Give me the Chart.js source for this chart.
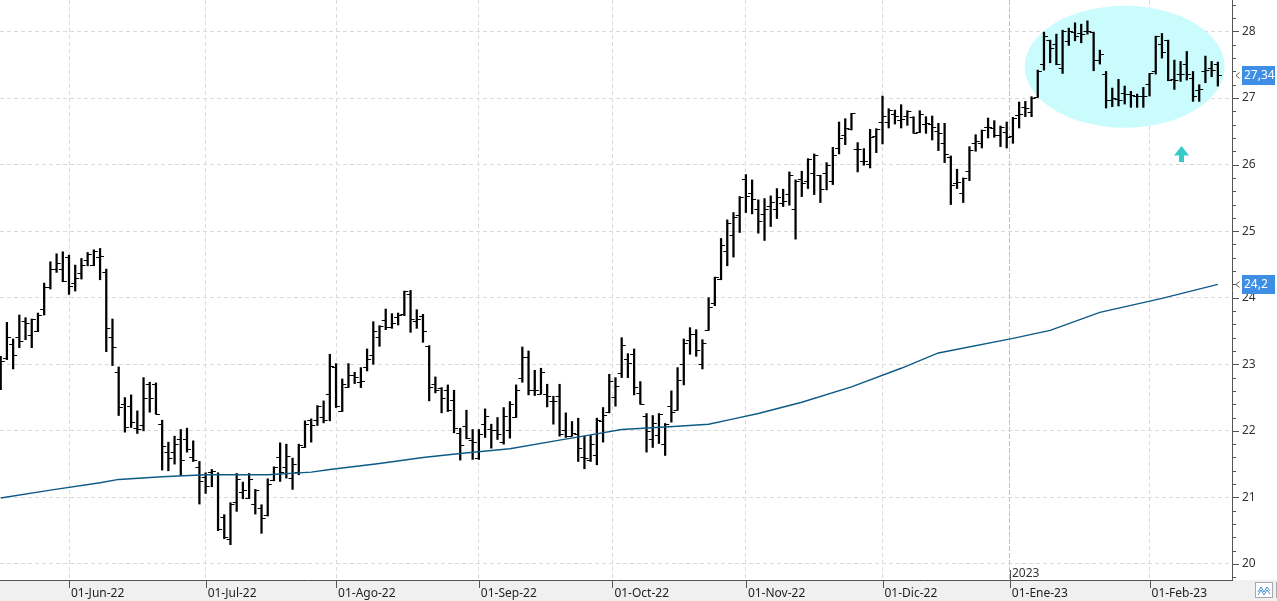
<!DOCTYPE html>
<html>
<head>
<meta charset="utf-8">
<script src="https://cdn.jsdelivr.net/npm/chart.js@4.4.0/dist/chart.umd.min.js"></script>
<style>
  html, body { margin: 0; padding: 0; background: #fff; overflow: hidden; }
</style>
</head>
<body>
<canvas id="chart" width="1277" height="601"></canvas>
<script>
// daily OHLC, one value per trading day from 17-May-22
const opens = [
  22.7, 23.08, 23.3, 23.4, 23.64, 23.43, 23.49, 23.82, 24.15, 24.43,
  24.43, 24.6, 24.22, 24.37, 24.56, 24.49, 24.61, 24.38, 23.4, 22.88,
  22.4, 22.37, 22.04, 22.08, 22.7, 22.7, 22.1, 21.67, 21.67, 21.87,
  21.87, 21.6, 21.45, 21.3, 21.37, 21.35, 20.7, 20.36, 20.92, 21.08,
  20.98, 20.9, 20.84, 20.73, 21.25, 21.6, 21.45, 21.28, 21.38, 21.75,
  22.15, 22.15, 22.2, 22.55, 22.95, 22.29, 22.65, 22.83, 22.72, 22.95,
  23.13, 23.4, 23.66, 23.55, 23.7, 23.75, 24.05, 23.64, 23.72, 23.27,
  22.69, 22.63, 22.61, 22.45, 21.96, 22.06, 21.85, 21.59, 22.1, 22.02,
  22.0, 21.82, 22.0, 22.2, 22.79, 23.1, 22.61, 22.55, 22.54, 22.44,
  22.51, 22.0, 21.92, 21.95, 21.6, 21.55, 21.63, 22.14, 22.27, 22.5,
  22.86, 23.07, 23.15, 22.56, 22.21, 21.87, 21.93, 21.79, 22.36, 22.31,
  22.99, 23.36, 23.45, 23.0, 23.51, 23.92, 24.28, 24.7, 24.93, 25.23,
  25.77, 25.56, 25.32, 25.25, 25.37, 25.33, 25.42, 25.55, 25.32, 25.77,
  25.75, 25.86, 25.84, 25.86, 25.74, 26.24, 26.44, 26.52, 26.22, 26.05,
  26.0, 26.42, 26.64, 26.64, 26.75, 26.67, 26.72, 26.71, 26.48, 26.61,
  26.61, 26.5, 26.32, 26.1, 25.72, 25.56, 25.89, 26.32, 26.32, 26.56,
  26.54, 26.43, 26.48, 26.42, 26.74, 26.86, 26.79, 27.01, 27.51, 27.87,
  27.81, 27.45, 27.85, 27.99, 27.97, 28.0, 27.98, 27.57, 27.35, 26.97,
  26.98, 27.07, 27.06, 27.03, 27.03, 27.21, 27.4, 27.8, 27.87, 27.28,
  27.35, 27.51, 27.3, 27.12, 27.4, 27.45, 27.5
];
const highs = [
  23.12, 23.63, 23.38, 23.74, 23.7, 23.68, 23.77, 24.22, 24.54, 24.66,
  24.69, 24.64, 24.49, 24.59, 24.68, 24.72, 24.74, 24.43, 23.68, 22.96,
  22.5, 22.54, 22.3, 22.8, 22.73, 22.72, 22.16, 21.83, 21.92, 22.02,
  22.04, 21.85, 21.54, 21.37, 21.42, 21.37, 20.74, 20.92, 21.36, 21.23,
  21.36, 21.12, 20.89, 21.28, 21.46, 21.82, 21.8, 21.59, 21.8, 22.15,
  22.18, 22.38, 22.45, 23.15, 23.01, 22.78, 23.01, 22.88, 22.95, 23.23,
  23.64, 23.58, 23.83, 23.76, 23.77, 24.1, 24.11, 23.82, 23.75, 23.28,
  22.81, 22.65, 22.69, 22.61, 22.04, 22.31, 22.02, 22.02, 22.33, 22.1,
  22.2, 22.35, 22.44, 22.69, 23.26, 23.2, 22.91, 22.94, 22.7, 22.52,
  22.7, 22.27, 22.14, 22.19, 21.92, 21.93, 22.19, 22.35, 22.85, 22.8,
  23.4, 23.16, 23.23, 22.74, 22.26, 22.23, 22.26, 22.11, 22.6, 22.95,
  23.38, 23.55, 23.52, 23.37, 24.0, 24.31, 24.89, 25.17, 25.28, 25.52,
  25.85, 25.77, 25.47, 25.49, 25.53, 25.64, 25.63, 25.89, 25.77, 25.9,
  26.09, 26.16, 25.84, 26.03, 26.26, 26.64, 26.69, 26.77, 26.33, 26.24,
  26.53, 26.54, 27.03, 26.84, 26.82, 26.9, 26.81, 26.72, 26.81, 26.72,
  26.73, 26.62, 26.62, 26.13, 25.93, 25.8, 26.27, 26.45, 26.52, 26.7,
  26.66, 26.58, 26.64, 26.71, 26.94, 26.95, 27.02, 27.42, 27.99, 27.87,
  27.96, 28.02, 28.05, 28.13, 28.11, 28.16, 27.99, 27.72, 27.4, 27.15,
  27.28, 27.18, 27.1, 27.06, 27.16, 27.37, 27.93, 27.97, 27.87, 27.57,
  27.55, 27.7, 27.4, 27.2, 27.63, 27.55, 27.54
];
const lows = [
  22.62, 23.07, 22.93, 23.25, 23.37, 23.25, 23.49, 23.74, 24.13, 24.38,
  24.24, 24.05, 24.1, 24.28, 24.48, 24.48, 24.27, 23.19, 22.98, 22.23,
  21.98, 22.05, 21.96, 22.0, 22.28, 22.25, 21.41, 21.4, 21.5, 21.33,
  21.68, 21.54, 20.9, 21.06, 21.16, 20.5, 20.38, 20.29, 20.79, 20.98,
  20.98, 20.75, 20.46, 20.72, 21.25, 21.24, 21.29, 21.12, 21.34, 21.75,
  21.83, 22.08, 22.12, 22.15, 22.35, 22.29, 22.65, 22.71, 22.65, 22.9,
  23.0, 23.27, 23.52, 23.54, 23.59, 23.73, 23.48, 23.54, 23.33, 22.45,
  22.57, 22.27, 22.29, 21.97, 21.56, 21.88, 21.57, 21.57, 21.9, 21.74,
  21.87, 21.8, 21.89, 22.2, 22.73, 22.54, 22.53, 22.55, 22.36, 22.1,
  21.92, 21.9, 21.92, 21.54, 21.43, 21.54, 21.49, 21.83, 22.27, 22.37,
  22.8, 22.8, 22.54, 22.4, 21.68, 21.75, 21.81, 21.63, 22.13, 22.31,
  22.69, 23.15, 23.12, 22.93, 23.51, 23.88, 24.27, 24.48, 24.61, 24.98,
  25.28, 25.26, 24.97, 24.86, 25.07, 25.19, 25.37, 25.39, 24.88, 25.52,
  25.64, 25.55, 25.43, 25.62, 25.7, 26.16, 26.3, 26.52, 25.89, 25.99,
  25.95, 26.18, 26.31, 26.55, 26.61, 26.55, 26.59, 26.47, 26.48, 26.47,
  26.37, 26.21, 26.03, 25.4, 25.64, 25.43, 25.76, 26.2, 26.25, 26.4,
  26.41, 26.27, 26.25, 26.32, 26.55, 26.72, 26.72, 27.01, 27.42, 27.53,
  27.5, 27.37, 27.79, 27.86, 27.83, 27.96, 27.41, 27.51, 26.85, 26.87,
  26.88, 26.91, 26.86, 26.86, 26.86, 27.03, 27.36, 27.6, 27.26, 27.13,
  27.25, 27.27, 26.95, 26.95, 27.23, 27.32, 27.18
];
const closes = [
  23.04, 23.4, 23.13, 23.34, 23.61, 23.67, 23.74, 24.15, 24.43, 24.51,
  24.24, 24.17, 24.29, 24.49, 24.65, 24.7, 24.62, 23.54, 23.25, 22.35,
  22.05, 22.13, 22.02, 22.49, 22.49, 22.25, 21.77, 21.58, 21.8, 21.55,
  21.72, 21.55, 21.24, 21.16, 21.39, 20.52, 20.4, 20.9, 21.27, 21.1,
  21.27, 21.1, 20.68, 21.2, 21.45, 21.37, 21.62, 21.5, 21.78, 22.1,
  22.08, 22.36, 22.15, 22.96, 22.36, 22.7, 22.83, 22.8, 22.74, 23.07,
  23.5, 23.57, 23.55, 23.62, 23.74, 24.09, 23.67, 23.67, 23.5, 22.65,
  22.6, 22.49, 22.3, 22.04, 21.78, 21.89, 21.83, 21.95, 22.21, 22.0,
  21.94, 22.22, 22.39, 22.6, 23.1, 22.6, 22.6, 22.88, 22.52, 22.44,
  21.94, 21.92, 21.96, 21.74, 21.59, 21.79, 22.15, 22.23, 22.74, 22.66,
  23.28, 23.01, 22.65, 22.4, 21.99, 22.11, 22.24, 22.1, 22.28, 22.75,
  23.31, 23.44, 23.2, 23.31, 23.85, 24.3, 24.79, 25.12, 25.2, 25.51,
  25.52, 25.47, 25.14, 25.32, 25.43, 25.5, 25.44, 25.83, 25.75, 25.71,
  26.07, 26.13, 25.63, 25.98, 26.13, 26.39, 26.54, 26.77, 26.23, 26.04,
  26.41, 26.52, 26.72, 26.82, 26.73, 26.68, 26.8, 26.47, 26.76, 26.62,
  26.55, 26.46, 26.15, 25.68, 25.73, 25.79, 26.21, 26.34, 26.51, 26.55,
  26.44, 26.56, 26.41, 26.7, 26.75, 26.85, 27.0, 27.4, 27.92, 27.75,
  27.5, 28.0, 28.0, 27.92, 27.95, 28.0, 27.57, 27.66, 26.97, 26.99,
  26.97, 27.06, 27.04, 27.03, 27.03, 27.37, 27.92, 27.68, 27.26, 27.26,
  27.36, 27.36, 27.03, 27.13, 27.41, 27.42, 27.34
];

// moving average at these bar indexes
const maIndex = [0, 8, 16, 19, 26, 33, 43, 50, 53, 61, 68, 74, 82, 90, 95, 100,
  109, 114, 118, 122, 129, 137, 145, 151, 163, 169, 177, 187, 196];
const maValues = [20.99, 21.11, 21.22, 21.27, 21.31, 21.34, 21.34, 21.38, 21.42, 21.51,
  21.6, 21.66, 21.73, 21.86, 21.94, 22.02, 22.07, 22.1, 22.18, 22.26, 22.43, 22.66,
  22.94, 23.17, 23.39, 23.51, 23.78, 23.99, 24.2];

const firstDay = '2022-05-17';
const closedDays = ['2022-12-26'];
const monthNames = ['Ene', 'Feb', 'Mar', 'Abr', 'May', 'Jun', 'Jul', 'Ago', 'Sep', 'Oct', 'Nov', 'Dic'];

// highlighted zone and marker, in data units (bar index / price)
const zone = { x: 181, y: 27.47, rx: 16.1, ry: 0.915 };
const arrowAt = { x: 190, y: 26.28 };

function tradingDays(start, count, closed) {
    const out = [];
    const d = new Date(start + 'T00:00:00Z');
    while (out.length < count) {
        const wd = d.getUTCDay();
        const iso = d.toISOString().slice(0, 10);
        if (wd !== 0 && wd !== 6 && !closed.includes(iso)) out.push(new Date(d));
        d.setUTCDate(d.getUTCDate() + 1);
    }
    return out;
}

const dates = tradingDays(firstDay, closes.length, closedDays);

const monthTicks = [];
dates.forEach((d, i) => {
    if (i === 0 || d.getUTCMonth() === dates[i - 1].getUTCMonth()) return;
    monthTicks.push({
        value: d.getUTCDate() === 1 ? i : i - 0.5,
        label: '01-' + monthNames[d.getUTCMonth()] + '-' + String(d.getUTCFullYear()).slice(2),
        newYear: d.getUTCMonth() === 0,
        year: d.getUTCFullYear()
    });
});

function isWhole(v) {
    return Math.abs(v - Math.round(v)) < 1e-6;
}

function fmt(v) {
    return String(Math.round(v * 100) / 100).replace('.', ',');
}

function tickImage(side) {
    const c = document.createElement('canvas');
    c.width = 10;
    c.height = 1;
    const g = c.getContext('2d');
    g.fillStyle = '#000';
    if (side === 'left') g.fillRect(1, 0, 4, 1);
    else g.fillRect(5, 0, 4, 1);
    return c;
}

const FONT = '"Noto Sans", sans-serif';
Chart.defaults.font.family = FONT;
Chart.defaults.font.size = 12;

const backdrop = {
    id: 'backdrop',
    beforeDraw(chart) {
        const { ctx, chartArea, width, height } = chart;
        ctx.save();
        ctx.fillStyle = '#fff';
        ctx.fillRect(0, 0, width, height);
        ctx.fillStyle = '#f0f0f0';
        ctx.fillRect(0, chartArea.bottom, width, height - chartArea.bottom);
        ctx.restore();
    }
};

const zonePlugin = {
    id: 'zone',
    beforeDatasetsDraw(chart) {
        const { ctx, scales: { x, y } } = chart;
        const cx = x.getPixelForValue(zone.x);
        const cy = y.getPixelForValue(zone.y);
        const rx = Math.abs(x.getPixelForValue(zone.x + zone.rx) - cx);
        const ry = Math.abs(y.getPixelForValue(zone.y + zone.ry) - cy);
        ctx.save();
        ctx.fillStyle = '#cbfcfd';
        ctx.beginPath();
        ctx.ellipse(cx, cy, rx, ry, 0, 0, Math.PI * 2);
        ctx.fill();

        const tx = Math.round(x.getPixelForValue(arrowAt.x)) + 0.5;
        const ty = Math.round(y.getPixelForValue(arrowAt.y));
        ctx.fillStyle = '#35cbc8';
        ctx.beginPath();
        ctx.moveTo(tx, ty);
        ctx.lineTo(tx + 7.5, ty + 9.5);
        ctx.lineTo(tx - 7.5, ty + 9.5);
        ctx.closePath();
        ctx.fill();
        ctx.fillRect(tx - 2.5, ty + 9, 5, 7);
        ctx.restore();
    }
};

const axisExtras = {
    id: 'axisExtras',
    afterDraw(chart) {
        const { ctx, chartArea, scales: { x, y } } = chart;
        ctx.save();
        ctx.strokeStyle = '#555';
        ctx.lineWidth = 1;
        ctx.beginPath();
        y.ticks.forEach(t => {
            if (t.value < y.min || t.value > y.max) return;
            const py = Math.round(y.getPixelForValue(t.value)) + 0.5;
            ctx.moveTo(y.left, py);
            ctx.lineTo(y.left + (isWhole(t.value) ? 7 : 4), py);
        });
        monthTicks.forEach(m => {
            const px = Math.round(x.getPixelForValue(m.value)) + 0.5;
            ctx.moveTo(px, chartArea.bottom);
            ctx.lineTo(px, chartArea.bottom + 8);
            if (m.newYear) {
                ctx.moveTo(px, chartArea.bottom - 10);
                ctx.lineTo(px, chartArea.bottom);
            }
        });
        ctx.stroke();

        ctx.fillStyle = '#333';
        ctx.font = '12px ' + FONT;
        ctx.textAlign = 'left';
        ctx.textBaseline = 'alphabetic';
        monthTicks.filter(m => m.newYear).forEach(m => {
            const px = Math.round(x.getPixelForValue(m.value));
            ctx.fillText(String(m.year), px + 2, chartArea.bottom - 3.5);
        });

        const tag = (value, text) => {
            const py = y.getPixelForValue(value);
            const top = Math.round(py - 9.5);
            ctx.fillStyle = '#3d8ee4';
            ctx.fillRect(y.left + 10, top, 33, 19);
            ctx.fillStyle = '#fff';
            ctx.textBaseline = 'middle';
            ctx.fillText(text, y.left + 12, top + 10);
            ctx.strokeStyle = '#555';
            ctx.beginPath();
            ctx.moveTo(y.left + 7.5, top + 6.5);
            ctx.lineTo(y.left + 4, top + 9.5);
            ctx.lineTo(y.left + 7.5, top + 12.5);
            ctx.stroke();
        };
        tag(closes[closes.length - 1], fmt(closes[closes.length - 1]));
        tag(maValues[maValues.length - 1], fmt(maValues[maValues.length - 1]));

        // little chart-type buttons in the corner
        ctx.fillStyle = '#fff';
        ctx.strokeStyle = '#a8a8a8';
        ctx.fillRect(1255.5, 582.5, 17, 15);
        ctx.strokeRect(1255.5, 582.5, 17, 15);
        ctx.strokeRect(1276.5, 582.5, 10, 15);
        ctx.strokeStyle = '#4a8fd8';
        ctx.beginPath();
        ctx.moveTo(1258, 592); ctx.lineTo(1261, 587); ctx.lineTo(1264, 592); ctx.lineTo(1267, 587); ctx.lineTo(1270, 591);
        ctx.moveTo(1258, 595); ctx.lineTo(1261, 590); ctx.lineTo(1264, 595); ctx.lineTo(1267, 590); ctx.lineTo(1270, 594);
        ctx.stroke();
        ctx.restore();
    }
};

new Chart(document.getElementById('chart'), {
    type: 'bar',
    data: {
        datasets: [
            {
                type: 'line',
                label: 'Media',
                data: maIndex.map((v, k) => ({ x: v, y: maValues[k] })),
                borderColor: '#0d5a86',
                borderWidth: 1.4,
                pointRadius: 0,
                tension: 0,
                order: 0
            },
            {
                type: 'line',
                label: 'Apertura',
                data: opens.map((v, i) => ({ x: i, y: v })),
                showLine: false,
                pointStyle: tickImage('left'),
                pointRadius: 3,
                order: 1
            },
            {
                type: 'line',
                label: 'Cierre',
                data: closes.map((v, i) => ({ x: i, y: v })),
                showLine: false,
                pointStyle: tickImage('right'),
                pointRadius: 3,
                order: 1
            },
            {
                type: 'bar',
                label: 'Rango',
                data: dates.map((d, i) => ({ x: i, y: [lows[i], highs[i]] })),
                backgroundColor: '#000',
                borderWidth: 0,
                barThickness: 1.6,
                grouped: false,
                order: 2
            }
        ]
    },
    options: {
        responsive: false,
        animation: false,
        events: [],
        layout: { padding: 0, autoPadding: false },
        plugins: { legend: { display: false }, tooltip: { enabled: false } },
        scales: {
            x: {
                type: 'linear',
                min: -0.113,
                max: 198.28,
                offset: false,
                afterBuildTicks: s => { s.ticks = monthTicks.map(m => ({ value: m.value })); },
                afterFit: s => { s.height = 21; s.paddingLeft = 0; s.paddingRight = 0; },
                grid: {
                    offset: false,
                    drawTicks: false,
                    color: ctx => (monthTicks[ctx.index] && monthTicks[ctx.index].newYear) ? '#c2c2c2' : '#dadada'
                },
                border: {
                    color: '#555',
                    dash: ctx => (monthTicks[ctx.index] && monthTicks[ctx.index].newYear) ? [5, 2] : [4, 3]
                },
                ticks: {
                    autoSkip: false,
                    maxRotation: 0,
                    minRotation: 0,
                    align: 'start',
                    labelOffset: 2,
                    padding: 6,
                    color: '#222',
                    callback: (v, i) => monthTicks[i] ? monthTicks[i].label : ''
                }
            },
            y: {
                position: 'right',
                min: 19.759,
                max: 28.473,
                afterFit: s => { s.width = 45; s.paddingTop = 0; s.paddingBottom = 0; },
                grid: {
                    drawTicks: false,
                    color: ctx => isWhole(ctx.tick.value) ? '#dadada' : 'rgba(0,0,0,0)'
                },
                border: { color: '#555', dash: [4, 3] },
                ticks: {
                    stepSize: 0.2,
                    includeBounds: false,
                    autoSkip: false,
                    padding: 10,
                    color: '#333',
                    callback: v => isWhole(v) ? String(Math.round(v)) : ''
                }
            }
        }
    },
    plugins: [backdrop, zonePlugin, axisExtras]
});
</script>
</body>
</html>
